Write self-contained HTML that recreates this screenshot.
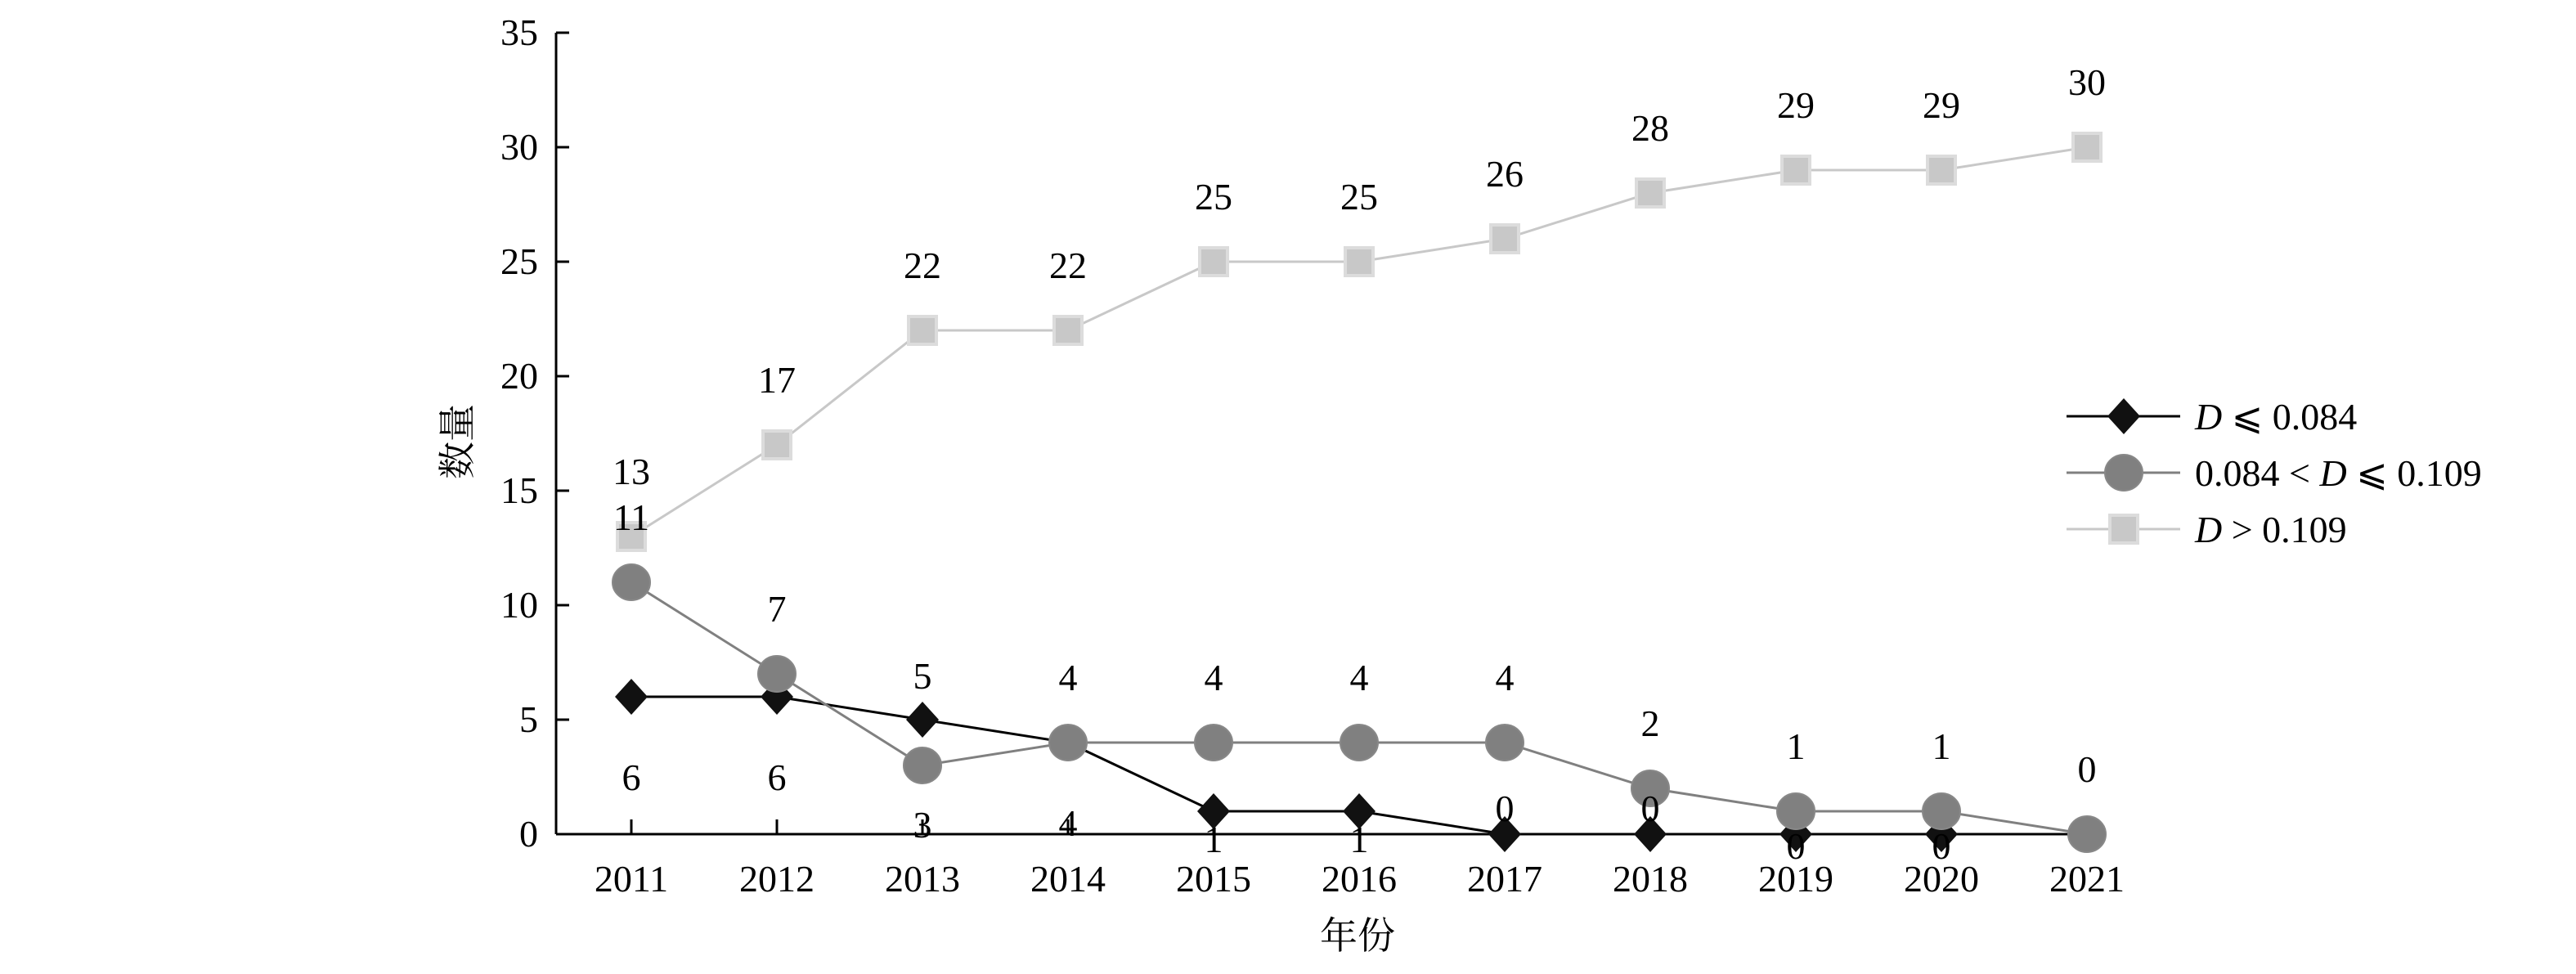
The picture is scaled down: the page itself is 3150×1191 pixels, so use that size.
<!DOCTYPE html>
<html><head><meta charset="utf-8"><style>
html,body{margin:0;padding:0;background:#fff;}
svg{display:block;}
text{font-family:"Liberation Serif","Noto Serif CJK SC",serif;fill:#000;}
</style></head><body>
<svg id="chart" width="3150" height="1191" viewBox="0 0 3150 1191" xmlns="http://www.w3.org/2000/svg"></svg>
<script>
const categories = ["2011","2012","2013","2014","2015","2016","2017","2018","2019","2020","2021"];
const lowValues = [6,6,5,4,1,1,0,0,0,0,0];
const midValues = [11,7,3,4,4,4,4,2,1,1,0];
const highValues = [13,17,22,22,25,25,26,28,29,29,30];
const yTicks = [0,5,10,15,20,25,30,35];
// label placement: 1 = above, -1 = below
const lowLabelSide = [-1,-1,1,-1,-1,-1,1,1,-1,-1,-1];
const midLabelSide = [1,1,-1,1,1,1,1,1,1,1,1];

const NS = "http://www.w3.org/2000/svg";
const svg = document.getElementById('chart');
const X0 = 680, Y0 = 1020, YTOP = 40, XFIRST = 772, XSTEP = 178;
function xs(i){ return XFIRST + i*XSTEP; }
function ys(v){ return Y0 - (Y0-YTOP)*v/35; }
function mk(tag, attrs, parent){
  const e = document.createElementNS(NS, tag);
  for (const k in attrs) e.setAttribute(k, attrs[k]);
  (parent||svg).appendChild(e);
  return e;
}
// axes
const axes = mk('g', {});


const ya = mk('line', {x1:X0,y1:YTOP,x2:X0,y2:Y0,stroke:'#000','stroke-width':3}, axes);


const xa = mk('line', {x1:X0,y1:Y0,x2:xs(categories.length-1),y2:Y0,stroke:'#000','stroke-width':3}, axes);


yTicks.forEach(v => {
  const y = ys(v);
  mk('line', {x1:X0,y1:y,x2:X0+16,y2:y,stroke:'#000','stroke-width':3}, axes);
  const t = mk('text', {x:X0-22,y:y+15,'text-anchor':'end','font-size':46}, axes);
  t.textContent = v;
  
  
});
categories.forEach((c,i) => {
  const x = xs(i);
  mk('line', {x1:x,y1:Y0,x2:x,y2:Y0-18,stroke:'#000','stroke-width':3}, axes);
  const t = mk('text', {x:x,y:1090,'text-anchor':'middle','font-size':46}, axes);
  t.textContent = c;
  
  
});
const yt = mk('text', {x:0,y:0,'text-anchor':'middle','font-size':46,transform:'translate(575,540) rotate(-90)'});
yt.textContent = '数量';


const xt = mk('text', {x:1660,y:1160,'text-anchor':'middle','font-size':46});
xt.textContent = '年份';



function marker(type, x, y, g){
  if (type==='diamond') return mk('polygon', {points:`${x},${y-22} ${x+20},${y} ${x},${y+22} ${x-20},${y}`, fill:'#111'}, g);
  if (type==='circle') return mk('ellipse', {cx:x,cy:y,rx:23,ry:22,fill:'#808080',stroke:'#888','stroke-width':2}, g);
  return mk('rect', {x:x-17,y:y-17,width:34,height:34,fill:'#c8c8c8',stroke:'#dcdcdc','stroke-width':4}, g);
}
function series(name, vals, color, type){
  const g = mk('g', {});
  
  
  const pts = vals.map((v,i)=>xs(i)+','+ys(v)).join(' ');
  mk('polyline', {points:pts, fill:'none', stroke:color, 'stroke-width':3}, g);
  vals.forEach((v,i)=>{
    const m = marker(type, xs(i), ys(v), g);
    
    
  });
}
series('series-low', lowValues, '#000', 'diamond');
series('series-mid', midValues, '#808080', 'circle');
series('series-high', highValues, '#c8c8c8', 'square');

const labels = mk('g', {});


function addLabel(v, i, dy){
  const t = mk('text', {x:xs(i),y:ys(v)+dy+16,'text-anchor':'middle','font-size':46}, labels);
  t.textContent = v;
  
  
}
highValues.forEach((v,i)=>addLabel(v,i,-80));
midValues.forEach((v,i)=>addLabel(v,i,midLabelSide[i]>0?-80:72));
lowValues.forEach((v,i)=>{
  if (i===categories.length-1) return;
  let dy;
  if (lowLabelSide[i]>0) dy = v>=3 ? -54 : -32;
  else dy = v>=3 ? 98 : (v>=1 ? 34 : 14);
  addLabel(v,i,dy);
});

// legend
const lg = mk('g', {});


const legendItems = [
  {type:'diamond', color:'#000', y:509, html:'<tspan font-style="italic">D</tspan> ⩽ 0.084'},
  {type:'circle', color:'#808080', y:578, html:'0.084 &lt; <tspan font-style="italic">D</tspan> ⩽ 0.109'},
  {type:'square', color:'#c8c8c8', y:647, html:'<tspan font-style="italic">D</tspan> &gt; 0.109'}
];
legendItems.forEach(it=>{
  const e = mk('g', {}, lg);
  
  
  mk('line', {x1:2527,y1:it.y,x2:2666,y2:it.y,stroke:it.color,'stroke-width':3}, e);
  marker(it.type, 2597, it.y, e);
  const t = mk('text', {x:2684,y:it.y+16,'font-size':46}, e);
  t.innerHTML = it.html;
});
</script>
</body></html>
